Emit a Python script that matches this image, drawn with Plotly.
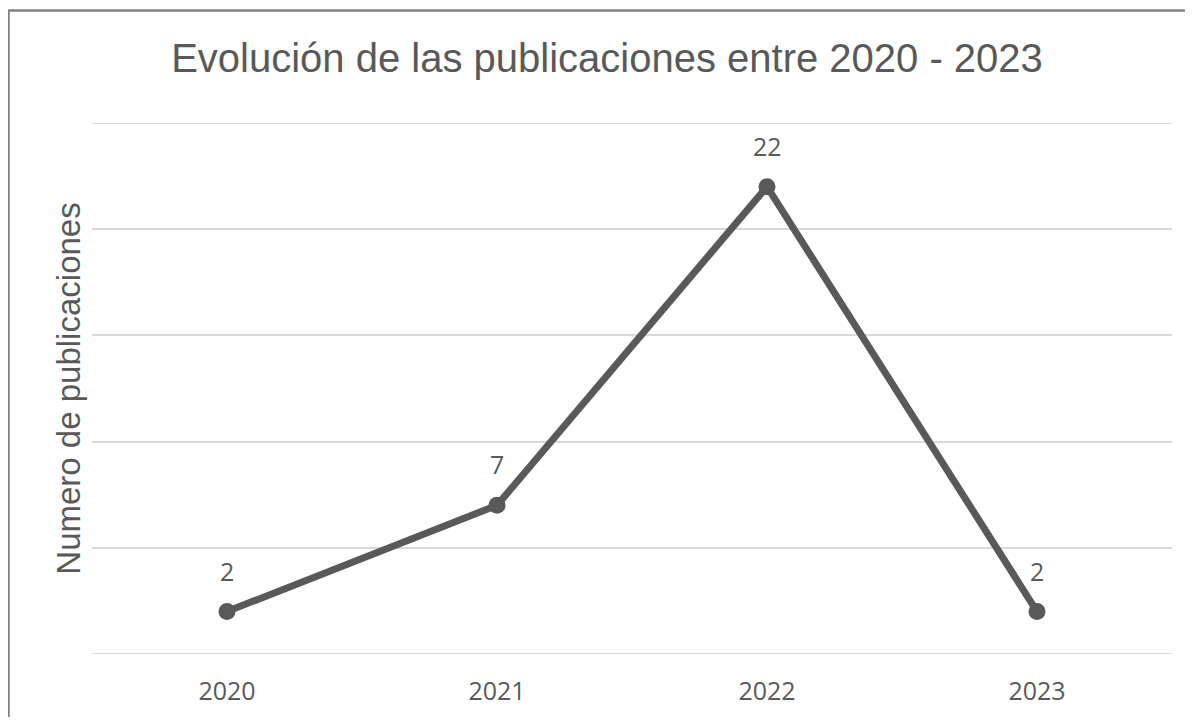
import plotly.graph_objects as go

years = ["2020", "2021", "2022", "2023"]
counts = [2, 7, 22, 2]
y_grid = [0, 25]

OFF = 8  # page body margin
W, H = 1177, 709
L, R, T, B = 92 - OFF, 13, 123 - OFF, 63
pw, ph = W - L - R, H - T - B

def px_x(p):
    return (p - OFF - L) / pw

def px_y(p):
    return (H - B - (p - OFF)) / ph

fig = go.Figure()
fig.add_trace(go.Scatter(
    x=years, y=counts, mode="lines+markers",
    line=dict(color="#595959", width=7),
    marker=dict(color="#595959", size=17),
    hoverinfo="skip", showlegend=False,
))

for i, yv in enumerate(counts):
    fig.add_annotation(x=i, y=yv, text=str(yv), showarrow=False,
                       yshift=41, font=dict(family="Open Sans", size=25, color="#595959"))

shapes = [dict(type="rect", xref="paper", yref="paper",
               x0=px_x(8.5), x1=px_x(1230), y0=px_y(760), y1=px_y(10.5),
               line=dict(color="#828282", width=2.5), fillcolor="rgba(0,0,0,0)",
               layer="below")]
for v in y_grid:
    shapes.append(dict(type="line", xref="paper", yref="y", x0=0, x1=1, y0=v, y1=v,
                       line=dict(color="#d9d9d9", width=2), layer="below"))

fig.update_layout(
    width=W, height=H,
    margin=dict(l=L, r=R, t=T, b=B, autoexpand=False),
    paper_bgcolor="white", plot_bgcolor="white",
    title=dict(text="Evolución de las publicaciones entre 2020 - 2023",
               x=(607 - OFF) / W, xanchor="center", y=1 - (58 - OFF) / H, yanchor="middle",
               font=dict(family="Liberation Sans", size=40, color="#595959")),
    xaxis=dict(type="category", range=[-0.5, 3.5], showgrid=False, zeroline=False,
               showline=False, ticks="", ticklabelstandoff=20,
               tickfont=dict(family="Open Sans", size=25, color="#595959")),
    yaxis=dict(range=[0, 25], dtick=5, showticklabels=False, showgrid=True,
               gridcolor="#d9d9d9", gridwidth=2, zeroline=False, showline=False,
               title=dict(text="Numero de publicaciones", standoff=0,
                          font=dict(family="Liberation Sans", size=33, color="#595959"))),
    shapes=shapes,
)

fig.write_html("out.html")
